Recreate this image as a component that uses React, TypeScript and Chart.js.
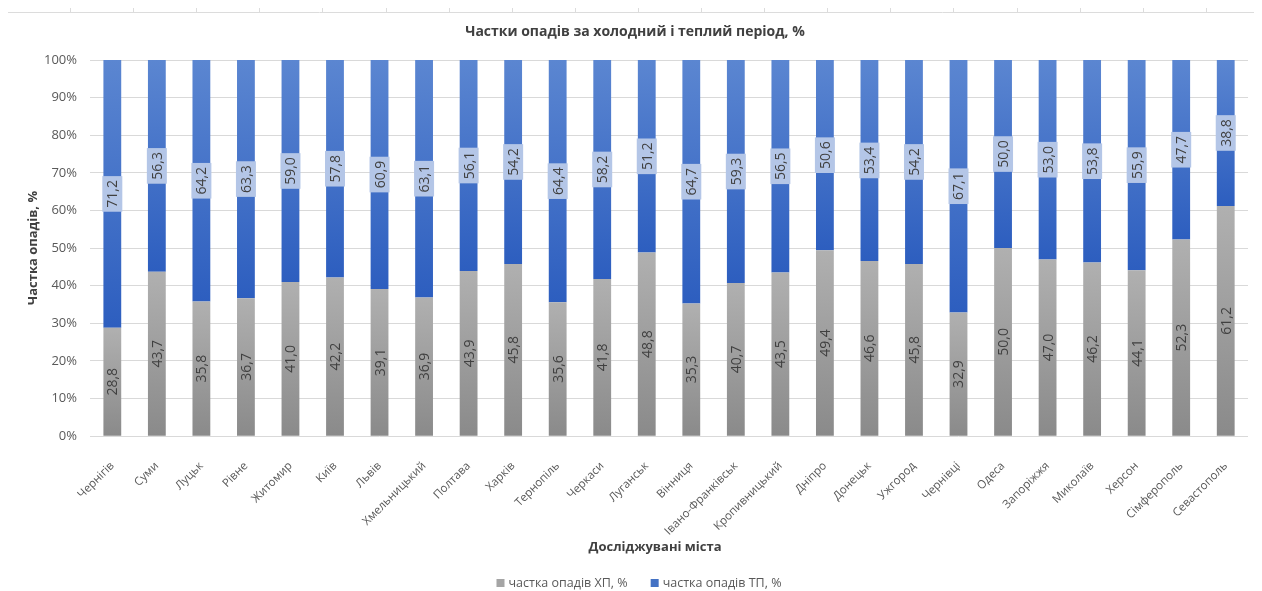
import React, { useEffect, useRef } from "react";
import { Chart, registerables } from "chart.js";

Chart.register(...registerables);

const cities = [
  "Чернігів", "Суми", "Луцьк", "Рівне", "Житомир", "Київ", "Львів", "Хмельницький",
  "Полтава", "Харків", "Тернопіль", "Черкаси", "Луганськ", "Вінниця", "Івано-Франківськ",
  "Кропивницький", "Дніпро", "Донецьк", "Ужгород", "Чернівці", "Одеса", "Запоріжжя",
  "Миколаїв", "Херсон", "Сімферополь", "Севастополь",
];

const coldShare = [
  28.8, 43.7, 35.8, 36.7, 41.0, 42.2, 39.1, 36.9, 43.9, 45.8, 35.6, 41.8, 48.8,
  35.3, 40.7, 43.5, 49.4, 46.6, 45.8, 32.9, 50.0, 47.0, 46.2, 44.1, 52.3, 61.2,
];

const warmShare = [
  71.2, 56.3, 64.2, 63.3, 59.0, 57.8, 60.9, 63.1, 56.1, 54.2, 64.4, 58.2, 51.2,
  64.7, 59.3, 56.5, 50.6, 53.4, 54.2, 67.1, 50.0, 53.0, 53.8, 55.9, 47.7, 38.8,
];

const seriesNames = ["частка опадів ХП, %", "частка опадів ТП, %"];
const legendColors = ["#a5a5a5", "#4472c4"];
const yTicks = [0, 10, 20, 30, 40, 50, 60, 70, 80, 90, 100];
const chartTitle = "Частки опадів за холодний і теплий період, %";
const yTitle = "Частка опадів, %";
const xTitle = "Досліджувані міста";

const FONT = "'Open Sans', 'Noto Sans', sans-serif";

function segGradient(ctx: any, topColor: string, bottomColor: string, fallback: string, datasetIndex: number) {
  const chart = ctx.chart;
  const area = chart.chartArea;
  if (!area || ctx.type !== "data") return fallback;
  const y = chart.scales.y;
  const i = ctx.dataIndex;
  let lo: number, hi: number;
  if (datasetIndex === 0) {
    lo = 0;
    hi = coldShare[i];
  } else {
    lo = coldShare[i];
    hi = coldShare[i] + warmShare[i];
  }
  const yTop = y.getPixelForValue(hi);
  const yBot = y.getPixelForValue(lo);
  if (!isFinite(yTop) || !isFinite(yBot) || yTop === yBot) return fallback;
  const g = chart.ctx.createLinearGradient(0, yTop, 0, yBot);
  g.addColorStop(0, topColor);
  g.addColorStop(1, bottomColor);
  return g;
}

const labelPlugin = {
  id: "segLabels",
  afterDatasetsDraw(chart: any) {
    const c = chart.ctx;
    chart.data.datasets.forEach((ds: any, di: number) => {
      const meta = chart.getDatasetMeta(di);
      meta.data.forEach((el: any, i: number) => {
        const v = ds.data[i];
        const txt = v.toFixed(1).replace(".", ",");
        const cx = el.x;
        const cy = (el.y + el.base) / 2;
        c.save();
        c.translate(cx, cy);
        c.rotate(-Math.PI / 2);
        c.font = `14px ${FONT}`;
        const w = c.measureText(txt).width;
        if (di === 1) {
          c.fillStyle = "#b4c6e7";
          c.fillRect(-w / 2 - 4, -10, w + 8, 20);
        }
        c.fillStyle = "#404040";
        c.textAlign = "center";
        c.textBaseline = "middle";
        c.fillText(txt, 0, 1);
        c.restore();
      });
    });
  },
};

// faint rule at the very top of the picture (edge of the neighbouring figure),
// the chart title, axis titles and legend drawn at fixed spots
const decorPlugin = {
  id: "decor",
  beforeDraw(chart: any) {
    const c = chart.ctx;
    c.save();
    c.strokeStyle = "#dcdcdc";
    c.lineWidth = 1;
    c.beginPath();
    c.moveTo(8, 12.5);
    c.lineTo(1254, 12.5);
    for (let x = 70; x < 1220; x += 63.1) {
      c.moveTo(Math.round(x) + 0.5, 12);
      c.lineTo(Math.round(x) + 0.5, 8);
    }
    c.stroke();
    c.restore();
  },
  afterDraw(chart: any) {
    const c = chart.ctx;
    const area = chart.chartArea;
    // chart title
    c.save();
    c.font = `bold 14px ${FONT}`;
    c.fillStyle = "#404040";
    c.textAlign = "center";
    c.textBaseline = "middle";
    c.fillText(chartTitle, 635, 32);
    c.restore();
    // y title
    c.save();
    c.translate(33, (area.top + area.bottom) / 2);
    c.rotate(-Math.PI / 2);
    c.font = `bold 13px ${FONT}`;
    c.fillStyle = "#404040";
    c.textAlign = "center";
    c.textBaseline = "middle";
    c.fillText(yTitle, 0, 0);
    c.restore();
    // x title
    c.save();
    c.font = `bold 13px ${FONT}`;
    c.fillStyle = "#404040";
    c.textAlign = "center";
    c.textBaseline = "middle";
    c.fillText(xTitle, 655, 547);
    c.restore();
    // legend
    c.save();
    c.font = `12.5px ${FONT}`;
    const box = 8, gap = 4, spacing = 23;
    const widths = seriesNames.map((s) => c.measureText(s).width);
    const total = widths.reduce((a, w) => a + box + gap + w, 0) + spacing * (seriesNames.length - 1);
    let x = 639 - total / 2;
    const yc = 583;
    c.textBaseline = "middle";
    c.textAlign = "left";
    seriesNames.forEach((s, k) => {
      c.fillStyle = legendColors[k];
      c.fillRect(x, yc - box / 2, box, box);
      c.fillStyle = "#595959";
      c.fillText(s, x + box + gap, yc);
      x += box + gap + widths[k] + spacing;
    });
    c.restore();
  },
};

export default function App() {
  const ref = useRef<HTMLCanvasElement | null>(null);

  useEffect(() => {
    if (!ref.current) return;
    const chart = new Chart(ref.current, {
      type: "bar",
      data: {
        labels: cities,
        datasets: [
          {
            label: seriesNames[0],
            data: coldShare,
            backgroundColor: (ctx: any) => segGradient(ctx, "#b0b0b0", "#8a8a8a", legendColors[0], 0),
            barPercentage: 0.8,
            categoryPercentage: 0.5,
          },
          {
            label: seriesNames[1],
            data: warmShare,
            backgroundColor: (ctx: any) => segGradient(ctx, "#5b86d1", "#2d5ebf", legendColors[1], 1),
            barPercentage: 0.8,
            categoryPercentage: 0.5,
          },
        ],
      },
      options: {
        animation: false,
        responsive: true,
        maintainAspectRatio: false,
        layout: { padding: { left: 31, right: 14, top: 60, bottom: 38 } },
        plugins: {
          title: { display: false },
          legend: { display: false },
          tooltip: { enabled: false },
        },
        scales: {
          x: {
            stacked: true,
            grid: { display: false },
            border: { display: false },
            ticks: {
              color: "#595959",
              font: { family: FONT, size: 11.5 },
              maxRotation: 45,
              minRotation: 45,
              autoSkip: false,
              padding: 15,
            },
          },
          y: {
            stacked: true,
            min: 0,
            max: 100,
            afterBuildTicks: (axis: any) => {
              axis.ticks = yTicks.map((v) => ({ value: v }));
            },
            grid: { color: "#d9d9d9", drawTicks: false },
            border: { display: false },
            ticks: {
              color: "#595959",
              font: { family: FONT, size: 13 },
              padding: 13,
              callback: (v: any) => `${v}%`,
            },
          },
        },
      },
      plugins: [labelPlugin, decorPlugin],
    });
    return () => chart.destroy();
  }, []);

  return (
    <div style={{ position: "fixed", left: 0, top: 0, width: 1262, height: 591, background: "#fff" }}>
      <canvas ref={ref} />
    </div>
  );
}
